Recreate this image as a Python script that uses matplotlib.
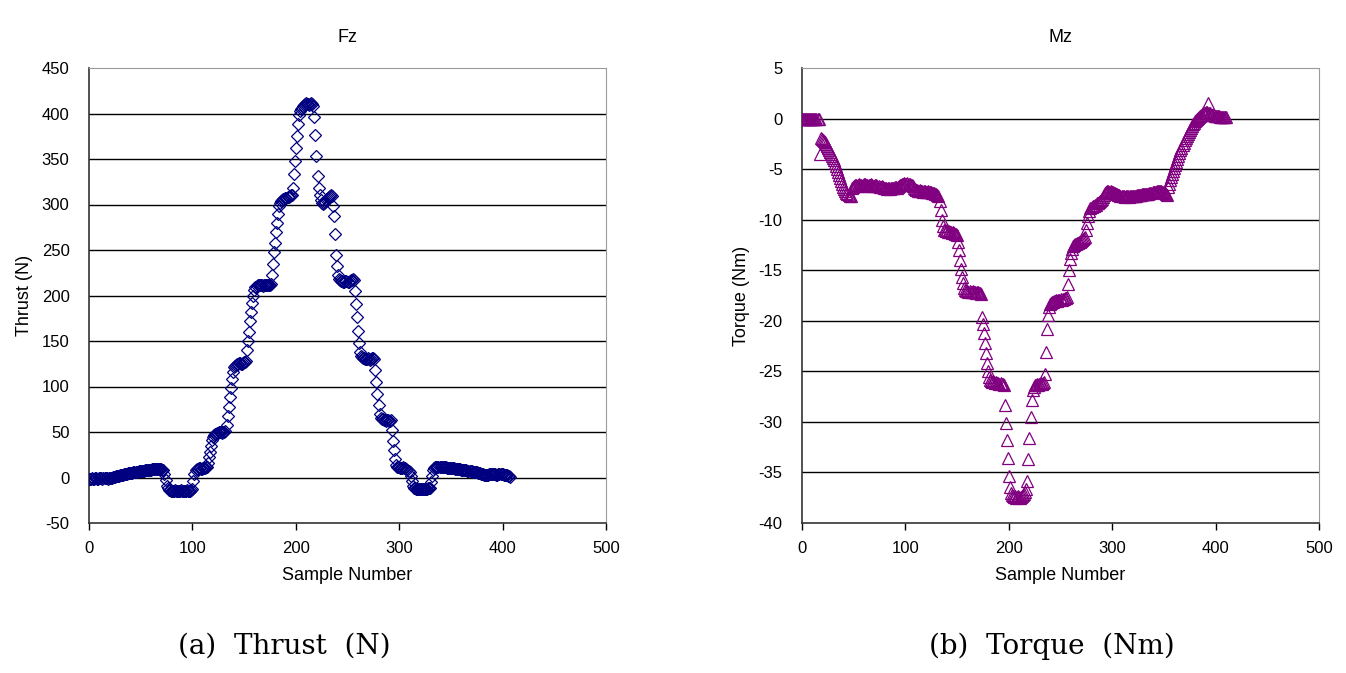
import numpy as np
import matplotlib as mpl

mpl.use('Agg')
import matplotlib.pyplot as plt

# Fz - thrust (N), one value per sample
thrust_n = [
    -2, -2, -2, -1, -2, -2, -1, -1, -2, -2, -1, -1, -1, -2, -1, -1, -1, -1, -2, -1, -1,
    0, 0, 1, 1, 1, 2, 2, 2, 2, 3, 3, 3, 3, 4, 4, 4, 4, 5, 5, 5,
    5, 5, 6, 6, 6, 6, 6, 7, 7, 7, 7, 7, 7, 8, 8, 8, 8, 8, 8, 8,
    9, 9, 9, 9, 9, 9, 9, 9, 9, 9, 8, 8,
    4, -3, -9, -12, -14,
    -14, -15, -15, -15, -15, -14, -15, -15, -15, -15, -15, -14, -15, -15, -15, -15, -15, -14, -15, -15,
    -15, -14, -13,
    -4, 4,
    8, 9, 9, 10, 10, 9, 9, 10, 10, 10, 11, 11,
    16, 22, 28, 35, 41, 45,
    47, 48, 48, 49, 49, 50, 50, 50, 49, 50, 50, 51,
    58, 68, 78, 88, 98, 108, 116, 121,
    123, 124, 125, 125, 126, 126, 125, 125, 126, 127, 127, 128,
    140, 150, 160, 172, 182, 192, 200, 206,
    209, 210, 211, 211, 212, 211, 211, 210, 211, 211, 212, 212, 211, 211, 212, 213,
    222, 235, 248, 258, 270, 280, 290, 298,
    302, 304, 305, 306, 306, 307, 307, 308, 308, 309, 310, 310,
    318, 333, 348, 362, 375, 388, 398, 403,
    405, 406, 408, 409, 410, 411, 410, 410, 409, 410, 411, 410, 408,
    396, 376, 353, 331, 318, 310, 305,
    302, 301, 302, 303, 305, 306, 307, 308, 309, 310, 309,
    298, 287, 268, 245, 232, 222,
    218, 217, 216, 216, 215, 215, 216, 216, 215, 215, 216, 217, 217, 218, 217,
    205, 191, 176, 161, 148, 138,
    133, 132, 131, 131, 130, 130, 130, 131, 130, 129, 130, 131, 131, 130,
    118, 105, 92, 80, 70,
    65, 64, 64, 63, 63, 62, 63, 63, 62, 62, 63,
    52, 40, 30, 20, 14,
    12, 11, 11, 10, 10, 10, 11, 10, 10, 9, 8, 7, 6,
    2, -4, -9,
    -11, -12, -13, -13, -13, -13, -13, -13, -13, -13, -13, -13, -13, -13, -12, -12, -11,
    -5, 2, 8,
    10, 11, 11, 11, 11, 11, 11, 11, 11, 11, 11, 11, 10, 10, 10, 10, 10, 10, 10, 10,
    9, 9, 9, 9, 9, 9, 8, 8, 8, 8, 8, 8, 7, 7, 7, 7, 7, 6, 6, 6,
    6, 6, 5, 5, 5, 4, 4, 4, 3, 3, 3, 3, 3, 4, 4, 4, 4, 4, 4, 4,
    3, 3, 4, 4, 4, 4, 4, 3, 3, 3, 3, 2, 2, 1,
]

# Mz - torque (Nm), one value per sample
torque_nm = [
    0, 0, 0, 0, 0, 0, 0, 0, 0, 0, 0, 0, 0, 0, 0, 0, 0,
    -3.5,
    -1.9, -2.0, -2.1, -2.2, -2.3, -2.5, -2.7, -2.9, -3.1, -3.3,
    -3.5, -3.7, -3.9, -4.1, -4.4, -4.7, -5.0, -5.3, -5.6, -5.9,
    -6.2, -6.5, -6.8, -7.0, -7.2, -7.4, -7.5, -7.6, -7.7, -7.7,
    -6.9, -6.8, -6.7, -6.6, -6.6, -6.7, -6.6, -6.5, -6.6, -6.6,
    -6.7, -6.6, -6.5, -6.5, -6.6, -6.6, -6.7, -6.6, -6.6, -6.5,
    -6.6, -6.7, -6.7, -6.6, -6.6, -6.7, -6.7, -6.8, -6.8, -6.7,
    -6.8, -6.9, -6.9, -6.9, -7.0, -6.9, -6.9, -7.0, -6.9, -6.9,
    -6.9, -6.9, -6.8, -6.8, -6.9, -6.8, -6.7, -6.6, -6.6, -6.5,
    -6.5, -6.4, -6.5, -6.5, -6.4, -6.5, -6.5, -6.6, -6.6, -6.7,
    -6.9, -7.0, -7.1, -7.1, -7.2, -7.2, -7.1, -7.2, -7.2, -7.3,
    -7.2, -7.2, -7.3, -7.3, -7.2, -7.3, -7.3, -7.3, -7.4, -7.4,
    -7.4, -7.5, -7.5, -7.6, -7.7,
    -8.2, -9.0, -10.0, -10.6, -11.0,
    -11.0, -11.1, -11.0, -11.2, -11.1, -11.2, -11.2, -11.3, -11.2, -11.3, -11.4, -11.4, -11.5,
    -12.2, -13.0, -14.0, -14.9, -15.7, -16.3, -16.8,
    -17.0, -17.1, -17.1, -17.2, -17.1, -17.2, -17.2, -17.1,
    -17.2, -17.2, -17.3, -17.2, -17.2, -17.3, -17.3, -17.4,
    -19.6, -20.3, -21.2, -22.2, -23.2, -24.2, -25.0, -25.6, -25.9,
    -26.0, -26.1, -26.0, -26.1, -26.2, -26.1, -26.2, -26.2, -26.3, -26.2, -26.3, -26.3, -26.4,
    -28.3, -30.1, -31.8, -33.6, -35.4, -36.4, -37.0,
    -37.2, -37.3, -37.4, -37.3, -37.5, -37.4, -37.3, -37.4, -37.5, -37.4, -37.3, -37.2, -37.1, -36.9, -36.6,
    -35.8, -33.7, -31.6, -29.5, -27.8, -26.8,
    -26.5, -26.4, -26.4, -26.3, -26.4, -26.3, -26.3, -26.2, -26.3, -26.2, -26.1,
    -25.3, -23.1, -20.8, -19.4, -18.6,
    -18.3, -18.2, -18.1, -18.1, -18.0, -18.0, -17.9, -18.0, -17.9,
    -17.9, -17.8, -17.9, -17.8, -17.8, -17.7, -17.7, -17.6,
    -16.4, -15.0, -13.9, -13.3, -12.9,
    -12.6, -12.5, -12.4, -12.4, -12.3, -12.3, -12.2, -12.2, -12.1, -12.0, -11.9, -11.8, -11.7,
    -11.0, -10.3, -9.6, -9.1,
    -8.8, -8.7, -8.6, -8.6, -8.5, -8.5, -8.4, -8.4, -8.3, -8.2, -8.1, -8.0, -7.8, -7.6, -7.4,
    -7.3, -7.2, -7.2, -7.3, -7.3, -7.2, -7.3, -7.3, -7.4, -7.4,
    -7.5, -7.5, -7.6, -7.6, -7.7, -7.7, -7.7, -7.7, -7.8, -7.7,
    -7.7, -7.7, -7.8, -7.7, -7.7, -7.7, -7.7, -7.7, -7.7, -7.7,
    -7.6, -7.6, -7.6, -7.6, -7.6, -7.5, -7.5, -7.5, -7.5, -7.5,
    -7.5, -7.5, -7.4, -7.4, -7.4, -7.3, -7.3, -7.3, -7.3, -7.2,
    -7.2, -7.2, -7.2, -7.2, -7.3, -7.3, -7.4, -7.4, -7.5, -7.6,
    -6.8, -6.5, -6.1, -5.8, -5.5, -5.2, -4.9, -4.6, -4.3, -4.0,
    -3.7, -3.4, -3.1, -2.9, -2.6, -2.4, -2.1, -1.9, -1.7, -1.5,
    -1.3, -1.1, -0.9, -0.7, -0.5, -0.4, -0.2, -0.1, 0.0, 0.1,
    0.2, 0.3,
    0.4, 0.4, 0.5, 0.5, 0.5, 0.6, 0.6, 1.5, 0.5, 0.5,
    0.4, 0.4, 0.4, 0.3, 0.3, 0.3, 0.3, 0.3, 0.2, 0.2,
    0.2, 0.2, 0.2, 0.2, 0.2,
]

x_ticks = [0, 100, 200, 300, 400, 500]
fz_ticks = list(range(-50, 451, 50))
mz_ticks = list(range(-40, 6, 5))

plt.rcParams['font.family'] = ['Liberation Sans Narrow', 'Liberation Sans', 'DejaVu Sans']
plt.rcParams['axes.unicode_minus'] = False

fig = plt.figure(figsize=(13.46, 6.73), dpi=100)
ax1 = fig.add_axes([89 / 1346, 1 - 523 / 673, 517 / 1346, 455 / 673])
ax2 = fig.add_axes([802 / 1346, 1 - 523 / 673, 517 / 1346, 455 / 673])


def style_axes(ax, yticks, title, ylabel):
    ax.set_xlim(0, 500)
    ax.set_ylim(yticks[0], yticks[-1])
    ax.set_xticks(x_ticks)
    ax.set_yticks(yticks)
    for y in yticks[1:-1]:
        ax.axhline(y, color='black', lw=1.0, zorder=1)
    for side in ['top', 'right']:
        ax.spines[side].set_color('#9a9a9a')
    for side in ['left', 'bottom']:
        ax.spines[side].set_color('#333333')
        ax.spines[side].set_linewidth(1.2)
    ax.tick_params(axis='x', length=5, width=1, pad=8, labelsize=12)
    ax.tick_params(axis='y', length=0, pad=14, labelsize=12)
    ax.set_title(title, fontsize=13, pad=19)
    ax.set_xlabel('Sample Number', fontsize=13, labelpad=8)
    ax.set_ylabel(ylabel, fontsize=13, labelpad=6)


xs_fz = np.arange(len(thrust_n))
ax1.plot(xs_fz, thrust_n, ls='none', marker='D', ms=6.5, mfc='none',
         mec='#000080', mew=0.9, zorder=3)
style_axes(ax1, fz_ticks, 'Fz', 'Thrust (N)')

xs_mz = np.arange(len(torque_nm))
ax2.plot(xs_mz, torque_nm, ls='none', marker='^', ms=8, mfc='none',
         mec='#800080', mew=0.9, zorder=3)
style_axes(ax2, mz_ticks, 'Mz', 'Torque (Nm)')

cap_font = ['DejaVu Serif']
fig.text(284 / 1346, 1 - 646 / 673, '(a)  Thrust  (N)', ha='center', va='center',
         fontsize=20, family=cap_font)
fig.text(1052 / 1346, 1 - 646 / 673, '(b)  Torque  (Nm)', ha='center', va='center',
         fontsize=20, family=cap_font)

fig.savefig('out.png', dpi=100)
